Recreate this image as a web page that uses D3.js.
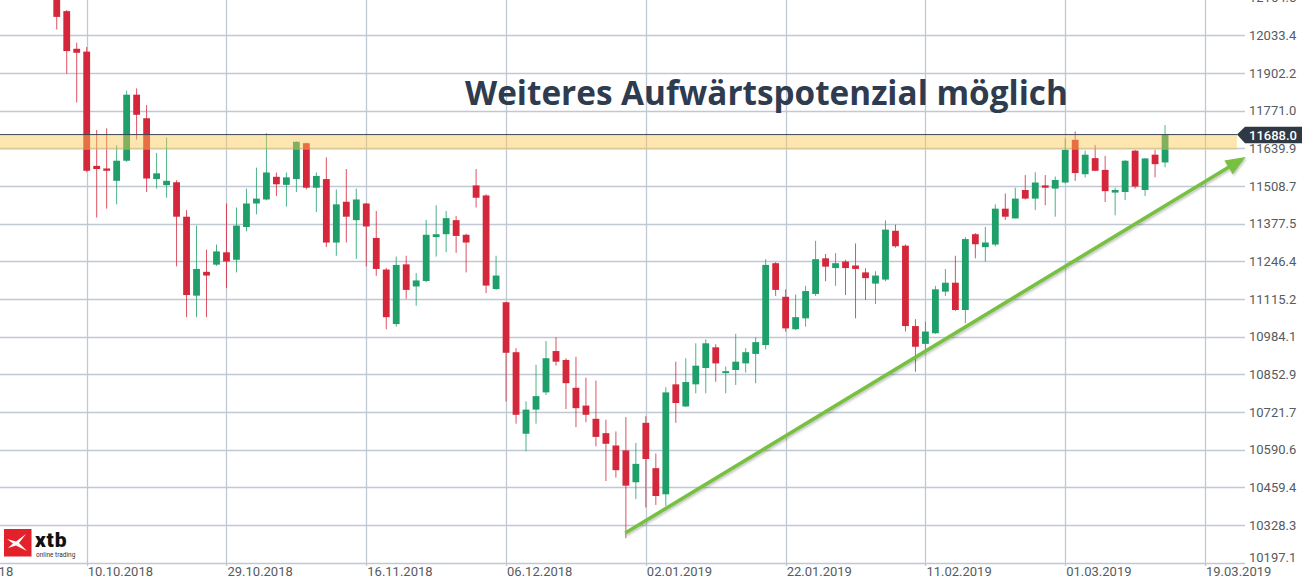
<!DOCTYPE html>
<html><head><meta charset="utf-8">
<script src="https://cdn.jsdelivr.net/npm/d3@7/dist/d3.min.js"></script>
<style>html,body{margin:0;padding:0;background:#fff;overflow:hidden}svg{display:block}</style>
</head><body>
<svg id="c" width="1302" height="581"></svg>
<script>
// ---- data ----
const opens  = [12169,12118,11987,11977,11579,11570,11527,11597,11827,11745,11533,11512,11522,11402,11127,11210,11235,11278,11252,11366,11448,11462,11541,11513,11533,11658,11503,11533,11312,11454,11390,11448,11328,11218,11028,11236,11159,11178,11331,11341,11390,11339,11511,11476,11150,11104,10930,10646,10730,10790,10934,10903,10806,10744,10698,10648,10605,10588,10477,10684,10526,10435,10818,10741,10818,10875,10947,10857,10868,10891,10924,10955,11240,11123,11010,11048,11133,11257,11223,11246,11232,11208,11169,11183,11353,11301,11021,10959,10996,11141,11172,11077,11341,11296,11305,11430,11396,11495,11465,11511,11500,11521,11670,11550,11606,11565,11486,11488,11632,11495,11618,11591];
const highs  = [12193,12122,12008,11993,11704,11710,11651,11841,11849,11791,11624,11678,11529,11425,11371,11287,11305,11448,11434,11500,11573,11693,11556,11556,11664,11660,11556,11609,11497,11568,11500,11450,11422,11224,11263,11266,11206,11391,11442,11422,11404,11343,11568,11480,11266,11106,10944,10759,10886,10969,10982,10909,10914,10841,10831,10695,10654,10704,10614,10707,10577,10808,10897,10909,10961,10975,10958,10880,10994,10944,10982,11254,11244,11149,11131,11161,11318,11272,11275,11252,11309,11222,11212,11389,11374,11305,11045,11036,11161,11220,11266,11331,11345,11366,11445,11483,11503,11547,11557,11547,11542,11675,11699,11632,11652,11614,11503,11599,11635,11606,11635,11721];
const lows   = [12054,11900,11800,11557,11399,11430,11445,11593,11670,11488,11500,11468,11229,11052,11052,11052,11231,11153,11208,11351,11410,11459,11474,11437,11488,11497,11418,11296,11266,11312,11255,11229,11196,11010,11019,11116,11092,11174,11263,11278,11276,11208,11434,11136,11147,10758,10681,10585,10681,10781,10883,10732,10669,10686,10602,10481,10493,10282,10418,10389,10398,10394,10684,10739,10787,10787,10827,10787,10816,10859,10822,10940,11126,11002,11007,11019,11126,11177,11161,11129,11048,11112,11098,11177,11294,11002,10862,10938,10994,11126,11074,11031,11257,11246,11299,11391,11396,11462,11425,11442,11402,11518,11527,11539,11561,11453,11407,11460,11500,11474,11539,11574];
const closes = [12098,11979,11973,11562,11568,11562,11597,11827,11757,11535,11553,11527,11402,11129,11220,11197,11281,11246,11371,11448,11465,11556,11515,11539,11663,11503,11544,11312,11445,11402,11462,11368,11220,11052,11234,11147,11180,11339,11341,11397,11335,11312,11468,11162,11197,10928,10712,10730,10777,10909,10897,10822,10735,10712,10635,10611,10519,10465,10541,10558,10429,10790,10753,10826,10883,10961,10891,10864,10897,10930,10965,11234,11147,11013,11052,11143,11254,11228,11240,11223,11220,11188,11197,11357,11299,11021,10949,11002,11149,11172,11077,11324,11306,11312,11430,11402,11465,11465,11521,11503,11530,11635,11554,11618,11562,11491,11495,11597,11507,11605,11585,11688];

const dateLabels  = ["20.09.2018","10.10.2018","29.10.2018","16.11.2018","06.12.2018","02.01.2019","22.01.2019","11.02.2019","01.03.2019","19.03.2019"];
const dateIndex   = [-11,3,17,31,45,59,73,87,101,115];
const priceTicks  = ["12164.5","12033.4","11902.2","11771.0","11639.9","11508.7","11377.5","11246.4","11115.2","10984.1","10852.9","10721.7","10590.6","10459.4","10328.3","10197.1"];
const lastPrice   = 11688.0;
const resistance  = [11635, 11688];
const trendFrom   = [56.94, 10300];
const trendTo     = [119.07, 11610];
const titleText   = "Weiteres Aufwärtspotenzial möglich";

// ---- scales ----
const svg = d3.select("#c");
const x = d3.scaleLinear().domain([3, 115]).range([86.7, 1205]);
const y = d3.scaleLinear().domain([10197.1, 12164.5]).range([562.6, -2.2]);

const gridCol = "#bfc8d3";
const red = "#d5273b", green = "#1f9f69";

// horizontal grid + right labels
const g = svg.append("g");
priceTicks.forEach(t => {
  const v = +t, yy = Math.round(y(v)) + 0.5;
  g.append("line").attr("x1", 0).attr("x2", 1245).attr("y1", yy).attr("y2", yy)
    .attr("stroke", gridCol).attr("stroke-width", 1.3);
  g.append("text").attr("x", 1249).attr("y", Math.min(y(v), 557)).attr("dy", "0.36em")
    .attr("font-family", "Roboto").attr("font-size", 13).attr("fill", "#555b61").text(t);
});
// vertical grid + date labels
dateIndex.forEach((di, k) => {
  const xx = Math.round(x(di)) + 0.5;
  g.append("line").attr("x1", xx).attr("x2", xx).attr("y1", 0).attr("y2", 566)
    .attr("stroke", gridCol).attr("stroke-width", 1.3);
  g.append("text").attr("x", x(di) + 1).attr("y", 576)
    .attr("font-family", "Roboto").attr("font-size", 13).attr("fill", "#555b61").text(dateLabels[k]);
});

// candles
const cg = svg.append("g");
opens.forEach((o, i) => {
  const c = closes[i], col = c >= o ? green : red;
  const cx = x(i);
  cg.append("line").attr("x1", cx).attr("x2", cx).attr("y1", y(highs[i])).attr("y2", y(lows[i]))
    .attr("stroke", col).attr("stroke-width", 1).attr("opacity", 0.8);
  const top = y(Math.max(o, c)), bot = y(Math.min(o, c));
  cg.append("rect").attr("x", cx - 3.4).attr("width", 6.8).attr("y", top).attr("height", Math.max(bot - top, 1.5))
    .attr("fill", col);
});

// resistance band + last price line
svg.append("rect").attr("x", 0).attr("width", 1237).attr("y", y(resistance[1])).attr("height", y(resistance[0]) - y(resistance[1]))
  .attr("fill", "rgb(250,200,80)").attr("opacity", 0.45);
svg.append("line").attr("x1", 0).attr("x2", 1237).attr("y1", y(lastPrice)).attr("y2", y(lastPrice))
  .attr("stroke", "#3b4450").attr("stroke-width", 1);

// price tag
const py = y(lastPrice);
svg.append("path").attr("d", `M1237,${py} L1245,${py-7.8} L1302,${py-7.8} L1302,${py+8.6} L1245,${py+8.6} Z`).attr("fill", "#2f3943");
svg.append("text").attr("x", 1249).attr("y", py).attr("dy", "0.38em").attr("font-family", "Roboto").attr("font-weight", 500)
  .attr("font-size", 13).attr("fill", "#fff").text(lastPrice.toFixed(1));

// trend arrow
const defs = svg.append("defs");
const f = defs.append("filter").attr("id", "sh").attr("x", "-10%").attr("y", "-10%").attr("width", "120%").attr("height", "120%");
f.append("feDropShadow").attr("dx", 1).attr("dy", 1.5).attr("stdDeviation", 1.2).attr("flood-color", "#000").attr("flood-opacity", 0.25);
const x1 = x(trendFrom[0]), y1 = y(trendFrom[1]), x2 = x(trendTo[0]), y2 = y(trendTo[1]);
const ang = Math.atan2(y2 - y1, x2 - x1), hl = 20, hw = 8;
const bx = x2 - hl * Math.cos(ang), by = y2 - hl * Math.sin(ang);
const ag = svg.append("g").attr("filter", "url(#sh)");
ag.append("line").attr("x1", x1).attr("y1", y1).attr("x2", bx + 2 * Math.cos(ang)).attr("y2", by + 2 * Math.sin(ang))
  .attr("stroke", "#78c043").attr("stroke-width", 3.6).attr("stroke-linecap", "butt");
ag.append("path").attr("d", `M${x2},${y2} L${bx + hw * Math.sin(ang)},${by - hw * Math.cos(ang)} L${bx - hw * Math.sin(ang)},${by + hw * Math.cos(ang)} Z`)
  .attr("fill", "#78c043");

// title
const tt = svg.append("text").attr("x", 465).attr("y", 105).attr("font-family", "Open Sans").attr("font-weight", 700)
  .attr("font-size", 35).attr("fill", "#2f3b4e").text(titleText);
const w = tt.node().getComputedTextLength();
tt.attr("font-size", 35 * 603 / w);

// logo
const lg = svg.append("g");
lg.append("rect").attr("x", 4).attr("y", 529).attr("width", 27.5).attr("height", 27.5).attr("fill", "#e3212b");
lg.append("path").attr("d", "M7,539 L16,541.5 L26,534 L19,543 L27,551 L16,545.5 L8,548 L13,543.5 Z").attr("fill", "#fff");
lg.append("text").attr("x", 35).attr("y", 547).attr("font-family", "Roboto").attr("font-weight", 900).attr("font-size", 21)
  .attr("letter-spacing", 0.8).attr("fill", "#111").text("xtb");
lg.append("text").attr("x", 36).attr("y", 557).attr("font-family", "Roboto").attr("font-size", 6.5).attr("fill", "#333").text("online trading");
</script>
</body></html>
